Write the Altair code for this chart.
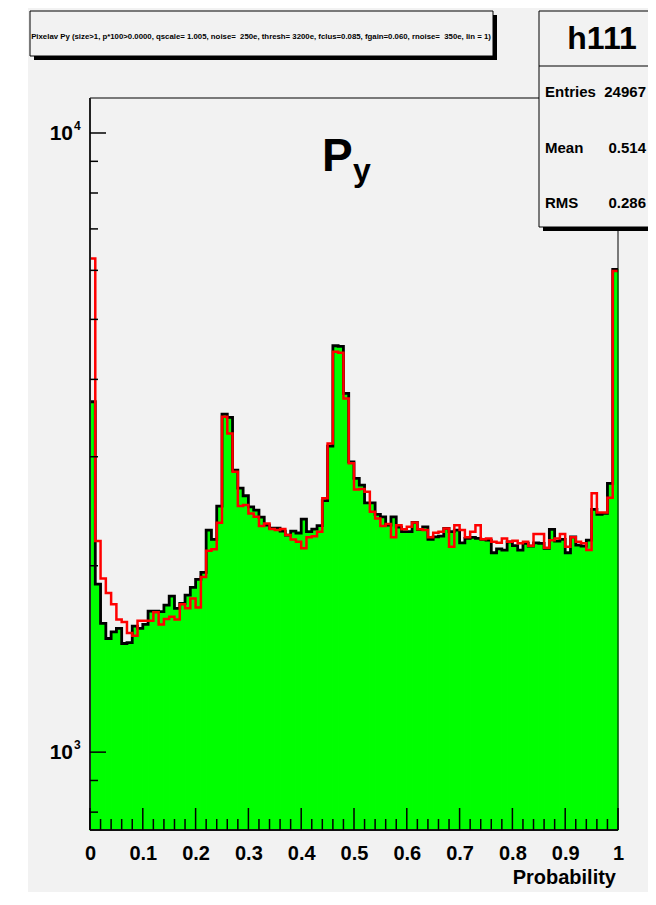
import altair as alt
import pandas as pd

# ---------------- data ----------------
bin_edges = [round(i * 0.01, 2) for i in range(101)]

h111_counts = [
    3681, 1868, 1614, 1526, 1564, 1584, 1498, 1503, 1598, 1584,
    1608, 1690, 1690, 1686, 1728, 1786, 1707, 1739, 1793, 1845,
    1901, 1951, 2284, 2206, 2497, 3516, 3473, 2855, 2670, 2595,
    2490, 2460, 2397, 2326, 2301, 2301, 2275, 2242, 2275, 2259,
    2379, 2270, 2292, 2322, 2549, 3121, 4533, 4522, 3797, 2944,
    2768, 2700, 2527, 2527, 2421, 2399, 2326, 2399, 2309, 2270,
    2270, 2350, 2290, 2312, 2206, 2227, 2233, 2298, 2270, 2284,
    2178, 2214, 2223, 2214, 2206, 2200, 2099, 2130, 2120, 2186,
    2155, 2120, 2174, 2152, 2178, 2174, 2134, 2290, 2192, 2206,
    2099, 2227, 2160, 2152, 2200, 2466, 2421, 2430, 2717, 6020,
]

red_counts = [
    6270, 2192, 1908, 1807, 1734, 1638, 1622, 1557, 1542, 1630,
    1630, 1630, 1682, 1608, 1640, 1654, 1638, 1734, 1707, 1771,
    1713, 1919, 2115, 2126, 2346, 3481, 3272, 2837, 2497, 2506,
    2430, 2399, 2318, 2341, 2292, 2284, 2292, 2242, 2206, 2186,
    2134, 2223, 2233, 2270, 2570, 3152, 4433, 4417, 3727, 2927,
    2657, 2660, 2634, 2444, 2385, 2318, 2335, 2223, 2326, 2290,
    2312, 2350, 2290, 2284, 2223, 2261, 2270, 2298, 2146, 2326,
    2284, 2223, 2270, 2326, 2208, 2214, 2186, 2178, 2214, 2186,
    2194, 2174, 2186, 2154, 2250, 2250, 2138, 2200, 2214, 2250,
    2146, 2223, 2186, 2174, 2120, 2618, 2439, 2439, 2575, 5985,
]

x_major_ticks = [round(i * 0.1, 1) for i in range(11)]
x_minor_ticks = [round(i * 0.02, 2) for i in range(51) if i % 5 != 0]
y_major_ticks = [1000, 10000]
y_minor_ticks = [800, 900, 2000, 3000, 4000, 5000, 6000, 7000, 8000, 9000]
y_label_values = [1000, 10000]
y_label_base = ["10", "10"]
y_label_exp = ["3", "4"]

title_text = ("Pixelav Py (size>1, p*100>0.0000, qscale= 1.005, noise=\u00a0 250e, "
              "thresh= 3200e, fclus=0.085, fgain=0.060, rnoise=\u00a0 350e, lin = 1)")
stat_names = ["Entries", "Mean", "RMS"]
stat_values = ["24967", "0.514", "0.286"]
stat_rows = [0, 1, 2]

# ---------------- layout ----------------
W, H = 528, 732
FONT = "Liberation Sans"
YMIN, YMAX = 748.6, 11390

xscale = alt.Scale(domain=[0, 1], nice=False, zero=False)
yscale = alt.Scale(type="log", domain=[YMIN, YMAX], nice=False)

bars_df = pd.DataFrame({"lo": bin_edges[:-1], "hi": bin_edges[1:], "n": h111_counts})
black_df = pd.DataFrame({"x": bin_edges, "y": h111_counts + [h111_counts[-1]]})
red_df = pd.DataFrame({"x": bin_edges, "y": red_counts + [red_counts[-1]]})
one = pd.DataFrame({"a": [0]})

bg = alt.Chart(one).mark_rect(color="#f2f2f2").encode(
    x=alt.value(-62), x2=alt.value(570), y=alt.value(-90), y2=alt.value(810))

xaxis = alt.Axis(values=x_major_ticks, format="~g", labelFont=FONT, labelFontWeight="bold",
                 labelFontSize=20, labelColor="black", ticks=False, domain=False, grid=False,
                 labelPadding=13, labelFlush=False, title=None, zindex=1)

fill = alt.Chart(bars_df).mark_rect(color="#00ff00", stroke="#00ff00", strokeWidth=1.2).encode(
    x=alt.X("lo:Q", scale=xscale, axis=xaxis),
    x2="hi:Q",
    y=alt.Y("n:Q", scale=yscale, axis=None),
    y2=alt.Y2(datum=YMIN))

black_line = alt.Chart(black_df).mark_line(interpolate="step-after", color="black",
                                           strokeWidth=2.8).encode(
    x=alt.X("x:Q", scale=xscale), y=alt.Y("y:Q", scale=yscale))

red_line = alt.Chart(red_df).mark_line(interpolate="step-after", color="#ff0000",
                                       strokeWidth=2.5).encode(
    x=alt.X("x:Q", scale=xscale), y=alt.Y("y:Q", scale=yscale))

frame = alt.Chart(one).mark_rect(fillOpacity=0, stroke="black", strokeWidth=1).encode(
    x=alt.value(0), x2=alt.value(W), y=alt.value(0), y2=alt.value(H))
left_axis = alt.Chart(one).mark_rule(color="#222222", strokeWidth=2).encode(
    x=alt.value(0), y=alt.value(0), y2=alt.value(H))
bottom_axis = alt.Chart(one).mark_rule(color="#111111", strokeWidth=2).encode(
    x=alt.value(0), x2=alt.value(W), y=alt.value(H))

xmaj = alt.Chart(pd.DataFrame({"t": x_major_ticks})).mark_rule(color="black", strokeWidth=1.5).encode(
    x=alt.X("t:Q", scale=xscale), y=alt.value(H), y2=alt.value(H - 22))
xmin = alt.Chart(pd.DataFrame({"t": x_minor_ticks})).mark_rule(color="black", strokeWidth=1.5).encode(
    x=alt.X("t:Q", scale=xscale), y=alt.value(H), y2=alt.value(H - 11))
ymaj = alt.Chart(pd.DataFrame({"t": y_major_ticks})).mark_rule(color="black", strokeWidth=1.5).encode(
    y=alt.Y("t:Q", scale=yscale), x=alt.value(0), x2=alt.value(16))
ymin = alt.Chart(pd.DataFrame({"t": y_minor_ticks})).mark_rule(color="black", strokeWidth=1.5).encode(
    y=alt.Y("t:Q", scale=yscale), x=alt.value(0), x2=alt.value(8))

ylab_df = pd.DataFrame({"v": y_label_values, "base": y_label_base, "exp": y_label_exp})
ylab = alt.Chart(ylab_df).mark_text(align="right", baseline="middle", font=FONT,
                                    fontWeight="bold", fontSize=21, color="black", dy=1).encode(
    x=alt.value(-17), y=alt.Y("v:Q", scale=yscale), text="base:N")
yexp = alt.Chart(ylab_df).mark_text(align="left", baseline="middle", font=FONT,
                                    fontWeight="bold", fontSize=12, color="black", dy=-7).encode(
    x=alt.value(-16), y=alt.Y("v:Q", scale=yscale), text="exp:N")

xtitle = alt.Chart(one).mark_text(text="Probability", align="right", baseline="middle", font=FONT,
                                  fontWeight="bold", fontSize=20, color="black").encode(
    x=alt.value(526), y=alt.value(780))

p_big = alt.Chart(one).mark_text(text="P", align="left", baseline="alphabetic", font=FONT,
                                 fontWeight="bold", fontSize=46, color="black").encode(
    x=alt.value(232), y=alt.value(73))
p_sub = alt.Chart(one).mark_text(text="y", align="left", baseline="alphabetic", font=FONT,
                                 fontWeight="bold", fontSize=32, color="black").encode(
    x=alt.value(263), y=alt.value(83))

# title pave
tshadow = alt.Chart(one).mark_rect(color="black").encode(
    x=alt.value(-56), x2=alt.value(407), y=alt.value(-83), y2=alt.value(-38))
tbox = alt.Chart(one).mark_rect(fill="#f2f2f2", stroke="black", strokeWidth=1).encode(
    x=alt.value(-60), x2=alt.value(403), y=alt.value(-87), y2=alt.value(-42))
ttext = alt.Chart(one).mark_text(text=title_text, align="center", baseline="middle", font=FONT,
                                 fontWeight="bold", fontSize=7.8, color="black").encode(
    x=alt.value(171), y=alt.value(-61))

# stats pave
sshadow = alt.Chart(one).mark_rect(color="black").encode(
    x=alt.value(453), x2=alt.value(575), y=alt.value(-83), y2=alt.value(133))
sbox = alt.Chart(one).mark_rect(fill="#f2f2f2", stroke="black", strokeWidth=1).encode(
    x=alt.value(449), x2=alt.value(575), y=alt.value(-87), y2=alt.value(129))
sline = alt.Chart(one).mark_rule(color="black", strokeWidth=1).encode(
    x=alt.value(449), x2=alt.value(575), y=alt.value(-32))
shead = alt.Chart(one).mark_text(text="h111", align="center", baseline="middle", font=FONT,
                                 fontWeight="bold", fontSize=32, color="black").encode(
    x=alt.value(512), y=alt.value(-59))
stat_df = pd.DataFrame({"name": stat_names, "val": stat_values, "row": stat_rows})
row_scale = alt.Scale(domain=[0, 2], range=[-6, 105])
sname = alt.Chart(stat_df).mark_text(align="left", baseline="middle", font=FONT,
                                     fontWeight="bold", fontSize=15, color="black").encode(
    x=alt.value(455), y=alt.Y("row:Q", scale=row_scale, axis=None), text="name:N")
sval = alt.Chart(stat_df).mark_text(align="right", baseline="middle", font=FONT,
                                    fontWeight="bold", fontSize=15, color="black").encode(
    x=alt.value(556), y=alt.Y("row:Q", scale=row_scale, axis=None), text="val:N")

main = alt.layer(bg, fill, black_line, red_line, frame, left_axis, bottom_axis,
                 xmaj, xmin, ymaj, ymin, ylab, yexp, xtitle, p_big, p_sub,
                 tshadow, tbox, ttext).resolve_scale(y="shared")

stats = alt.layer(sshadow, sbox, sline, shead, sname, sval)

chart = alt.layer(main, stats).resolve_scale(y="independent").properties(
    width=W, height=H,
    autosize=alt.AutoSizeParams(type="none"),
    padding={"left": 82, "top": 90, "right": 30, "bottom": 62},
    background="white",
).configure_view(strokeWidth=0)

chart.save("out.html", embed_options={"renderer": "svg", "actions": False})
